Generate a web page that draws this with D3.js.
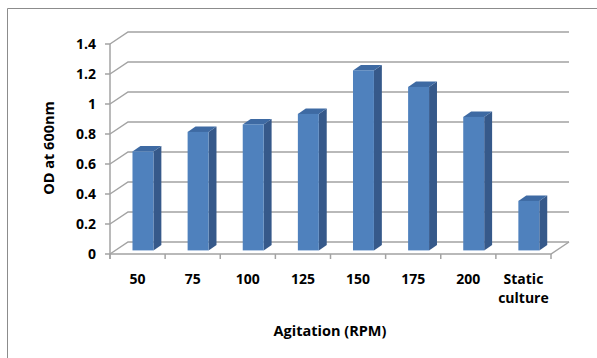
<!DOCTYPE html>
<html>
<head>
<meta charset="utf-8">
<script src="https://cdn.jsdelivr.net/npm/d3@7"></script>
<style>
  body { margin: 0; background: #fff; }
  text { font-family: "Open Sans", "Liberation Sans", sans-serif; font-weight: bold; fill: #000; }
</style>
</head>
<body>
<script>
// chart data
var categories = ["50", "75", "100", "125", "150", "175", "200", "Static culture"];
var odValues = [0.66, 0.79, 0.84, 0.91, 1.2, 1.09, 0.89, 0.33];
var yTicks = [0, 0.2, 0.4, 0.6, 0.8, 1, 1.2, 1.4];

var width = 597, height = 358;
var depthX = 18, depthY = -12;      // full depth of the 3d box
var barFront = 0.3, barBack = 0.74; // bar depth as fraction of box depth

var svg = d3.select("body").append("svg")
    .attr("width", width)
    .attr("height", height);

// outer chart border (left & top visible)
svg.append("path")
    .attr("d", "M7.5,358 V8.5 H597")
    .attr("fill", "none")
    .attr("stroke", "#8c8c8c")
    .attr("stroke-width", 1);

var x = d3.scaleBand()
    .domain(categories)
    .range([110, 551])
    .paddingInner(0.62)
    .paddingOuter(0.31);

var y = d3.scaleLinear()
    .domain([0, 1.4])
    .range([254, 44]);

var gridColor = "#a3a3a3";

// gridlines: slanted on the side wall, flat along the back wall
svg.selectAll(".grid")
    .data(yTicks)
    .enter().append("path")
    .attr("class", "grid")
    .attr("d", function (d) {
        var yy = y(d);
        return "M110," + yy + " L" + (110 + depthX) + "," + (yy + depthY) +
            " H" + (551 + depthX);
    })
    .attr("fill", "none")
    .attr("stroke", gridColor)
    .attr("stroke-width", 1.5);

// floor front edge and right edge
svg.append("path")
    .attr("d", "M110," + y(0) + " H551 L" + (551 + depthX) + "," + (y(0) + depthY))
    .attr("fill", "none")
    .attr("stroke", gridColor)
    .attr("stroke-width", 1.5);

// bars
var bars = svg.selectAll(".bar")
    .data(odValues)
    .enter().append("g")
    .attr("class", "bar");

function barGeom(d, i) {
    var x1 = x(categories[i]) + depthX * barFront;
    var x2 = x1 + x.bandwidth();
    var yb = y(0) + depthY * barFront;
    var yt = y(d) + depthY * barFront;
    var bx = depthX * (barBack - barFront);
    var by = depthY * (barBack - barFront);
    return {x1: x1, x2: x2, yb: yb, yt: yt, bx: bx, by: by};
}

// side face
bars.append("path")
    .attr("d", function (d, i) {
        var g = barGeom(d, i);
        return "M" + g.x2 + "," + g.yt + " L" + (g.x2 + g.bx) + "," + (g.yt + g.by) +
            " L" + (g.x2 + g.bx) + "," + (g.yb + g.by) + " L" + g.x2 + "," + g.yb + "Z";
    })
    .attr("fill", "#36598a");

// top face
bars.append("path")
    .attr("d", function (d, i) {
        var g = barGeom(d, i);
        return "M" + g.x1 + "," + g.yt + " L" + g.x2 + "," + g.yt +
            " L" + (g.x2 + g.bx) + "," + (g.yt + g.by) +
            " L" + (g.x1 + g.bx) + "," + (g.yt + g.by) + "Z";
    })
    .attr("fill", "#3e6aa3");

// front face
bars.append("rect")
    .attr("x", function (d, i) { return barGeom(d, i).x1; })
    .attr("y", function (d, i) { return barGeom(d, i).yt; })
    .attr("width", x.bandwidth())
    .attr("height", function (d, i) { var g = barGeom(d, i); return g.yb - g.yt; })
    .attr("fill", "#4f81bd");

// y axis line and ticks
svg.append("line")
    .attr("x1", 110).attr("x2", 110)
    .attr("y1", y(1.4)).attr("y2", y(0) + 5)
    .attr("stroke", gridColor)
    .attr("stroke-width", 1.5);

svg.selectAll(".ytick")
    .data(yTicks)
    .enter().append("line")
    .attr("x1", 105).attr("x2", 110)
    .attr("y1", function (d) { return y(d); })
    .attr("y2", function (d) { return y(d); })
    .attr("stroke", gridColor)
    .attr("stroke-width", 1.5);

svg.selectAll(".ylabel")
    .data(yTicks)
    .enter().append("text")
    .attr("x", 96)
    .attr("y", function (d) { return y(d); })
    .attr("dy", "0.36em")
    .attr("text-anchor", "end")
    .style("font-size", "14px")
    .text(function (d) { return d; });

// x axis ticks at band edges
var edges = categories.map(function (c) { return x(c) - x.step() * x.paddingInner() / 2; });
edges.push(551);
edges[0] = 110;
svg.selectAll(".xtick")
    .data(edges)
    .enter().append("line")
    .attr("x1", function (d) { return d; })
    .attr("x2", function (d) { return d; })
    .attr("y1", y(0))
    .attr("y2", y(0) + 5)
    .attr("stroke", gridColor)
    .attr("stroke-width", 1.5);

svg.selectAll(".xlabel")
    .data(categories)
    .enter().append("text")
    .attr("x", function (d) { return x(d) + x.bandwidth() / 2; })
    .attr("y", 284)
    .attr("text-anchor", "middle")
    .style("font-size", "14px")
    .each(function (d) {
        var words = d.split(" ");
        var t = d3.select(this);
        words.forEach(function (w, k) {
            t.append("tspan")
                .attr("x", x(d) + x.bandwidth() / 2)
                .attr("dy", k ? 19 : 0)
                .text(w);
        });
    });

// axis titles
svg.append("text")
    .attr("x", 330)
    .attr("y", 336)
    .attr("text-anchor", "middle")
    .style("font-size", "14.5px")
    .text("Agitation (RPM)");

svg.append("text")
    .attr("transform", "translate(54,148) rotate(-90)")
    .attr("text-anchor", "middle")
    .style("font-size", "14.5px")
    .text("OD at 600nm");
</script>
</body>
</html>
